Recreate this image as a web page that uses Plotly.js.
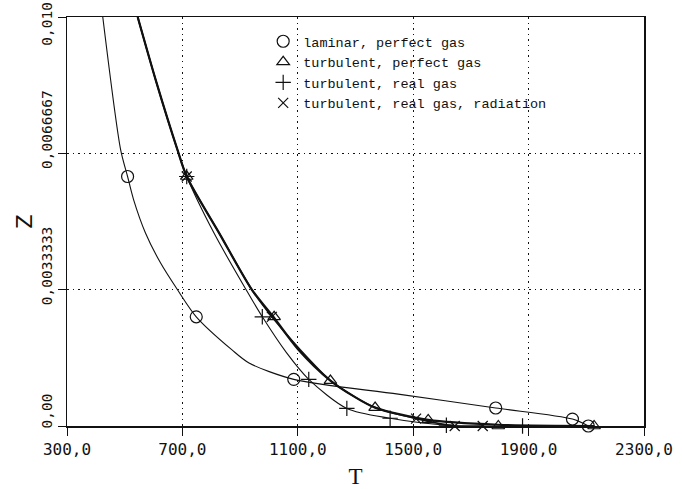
<!DOCTYPE html>
<html>
<head>
<meta charset="utf-8">
<script src="https://cdn.plot.ly/plotly-3.0.1.min.js"></script>
<style>html,body{margin:0;padding:0;background:#fff;}#chart{width:682px;height:489px;}</style>
</head>
<body>
<div id="chart"></div>
<script>
// Tick labels (non-breaking spaces nudge the rotated labels along the axis as in the original)
var xTickVals = [300, 700, 1100, 1500, 1900, 2300];
var xTickText = ["300,0", "700,0", "1100,0", "1500,0", "1900,0", "2300,0"];
var yTickVals = [0, 0.0033333, 0.0066667, 0.01];
var yTickText = ["\u00a0\u00a0\u00a0\u00a0\u00a00,00", "\u00a0\u00a0\u00a0\u00a0\u00a0\u00a0\u00a00,0033333", "\u00a0\u00a0\u00a0\u00a0\u00a0\u00a0\u00a00,0066667", "0,010"];

// Series names
var seriesNames = ["laminar, perfect gas", "turbulent, perfect gas", "turbulent, real gas", "turbulent, real gas, radiation"];

// Laminar, perfect gas (circles)
var lamLineT = [424, 486, 510, 531, 572, 624, 683, 748, 872, 931, 1086, 1448, 1786, 2052, 2107];
var lamLineZ = [0.0100, 0.00675, 0.0061, 0.00553, 0.00472, 0.00399, 0.00333, 0.00267, 0.00186, 0.00154, 0.00114, 0.00078, 0.00044, 0.00017, 0.0];
var lamMarkT = [510, 748, 1086, 1786, 2052, 2107];
var lamMarkZ = [0.0061, 0.00267, 0.00114, 0.00044, 0.00017, 0.0];

// Turbulent, perfect gas (triangles)
var tpLineT = [545, 610, 683, 715, 828, 941, 1015, 1103, 1213, 1293, 1368, 1552, 1795, 2127];
var tpLineZ = [0.0100, 0.0084, 0.00675, 0.0061, 0.00471, 0.00333, 0.00267, 0.00186, 0.00111, 0.00073, 0.00045, 0.00015, 0.00003, 0.0];
var tpMarkT = [715, 1018, 1213, 1368, 1552, 1795, 2127];
var tpMarkZ = [0.0061, 0.00267, 0.00111, 0.00045, 0.00015, 0.0, 0.0];

// Turbulent, real gas (plus)
var trLineT = [545, 610, 683, 715, 810, 921, 977, 1060, 1138, 1270, 1420, 1615, 1879];
var trLineZ = [0.0100, 0.0084, 0.00675, 0.0061, 0.00471, 0.00333, 0.00267, 0.0018, 0.00114, 0.00043, 0.00019, 0.00002, 0.0];
var trMarkT = [715, 977, 1138, 1270, 1420, 1615, 1879];
var trMarkZ = [0.0061, 0.00267, 0.00114, 0.00043, 0.00019, 0.00002, 0.0];

// Turbulent, real gas, radiation (x)
var trrLineT = [545, 610, 683, 715, 828, 941, 1010, 1110, 1213, 1293, 1368, 1510, 1644, 1741];
var trrLineZ = [0.0100, 0.0084, 0.00675, 0.0061, 0.00471, 0.00333, 0.00267, 0.00185, 0.00111, 0.00073, 0.00045, 0.00018, 0.0, 0.0];
var trrMarkT = [715, 1010, 1510, 1644, 1741];
var trrMarkZ = [0.0061, 0.00267, 0.00018, 0.0, 0.0];

var ink = "#111";
function lineTrace(x, y, w) {
  return {x: x, y: y, mode: "lines", type: "scatter", showlegend: false, hoverinfo: "skip",
    line: {color: ink, width: w, shape: "spline", smoothing: 0.8}};
}
function markTrace(x, y, name, sym, size) {
  return {x: x, y: y, mode: "markers", type: "scatter", name: name, cliponaxis: false,
    marker: {symbol: sym, size: size, color: ink, line: {color: ink, width: 1.2}}};
}

var data = [
  lineTrace(lamLineT, lamLineZ, 1.1),
  lineTrace(tpLineT, tpLineZ, 2.2),
  lineTrace(trLineT, trLineZ, 1.1),
  lineTrace(trrLineT, trrLineZ, 1.6),
  markTrace(lamMarkT, lamMarkZ, seriesNames[0], "circle-open", 12),
  markTrace(tpMarkT, tpMarkZ, seriesNames[1], "triangle-up-open", 11),
  markTrace(trMarkT, trMarkZ, seriesNames[2], "cross-thin-open", 11),
  markTrace(trrMarkT, trrMarkZ, seriesNames[3], "x-thin-open", 10)
];

var axisCommon = {
  showline: true, mirror: true, linecolor: ink, linewidth: 1.5,
  ticks: "outside", ticklen: 8, tickcolor: ink, tickwidth: 1,
  showgrid: true, gridcolor: ink, griddash: "1.5px,4px", gridwidth: 1.2,
  zeroline: false, tickmode: "array"
};

var layout = {
  width: 682, height: 489,
  margin: {l: 67, r: 38, t: 17, b: 63},
  paper_bgcolor: "#fff", plot_bgcolor: "#fff",
  font: {color: ink},
  xaxis: Object.assign({}, axisCommon, {
    range: [300, 2300.001], tickvals: xTickVals, ticktext: xTickText,
    tickfont: {family: "DejaVu Sans Mono", size: 16, color: ink},
    title: {text: "T", font: {family: "Liberation Serif", size: 23, color: ink}, standoff: 10}
  }),
  yaxis: Object.assign({}, axisCommon, {
    range: [0, 0.0100001], tickvals: yTickVals, ticktext: yTickText, tickangle: -90,
    ticklabeloverflow: "allow", ticklabelshift: 9,
    tickfont: {family: "DejaVu Sans Mono", size: 14.5, color: ink},
    title: {text: "Z", font: {family: "DejaVu Sans", size: 21, color: ink}, standoff: 0}
  }),
  legend: {
    x: 0.34, y: 0.978, xanchor: "left", yanchor: "top",
    bgcolor: "rgba(0,0,0,0)", borderwidth: 0, itemwidth: 30,
    font: {family: "Liberation Mono", size: 13.5, color: ink}
  }
};

Plotly.newPlot("chart", data, layout, {displayModeBar: false, staticPlot: true});
</script>
</body>
</html>
